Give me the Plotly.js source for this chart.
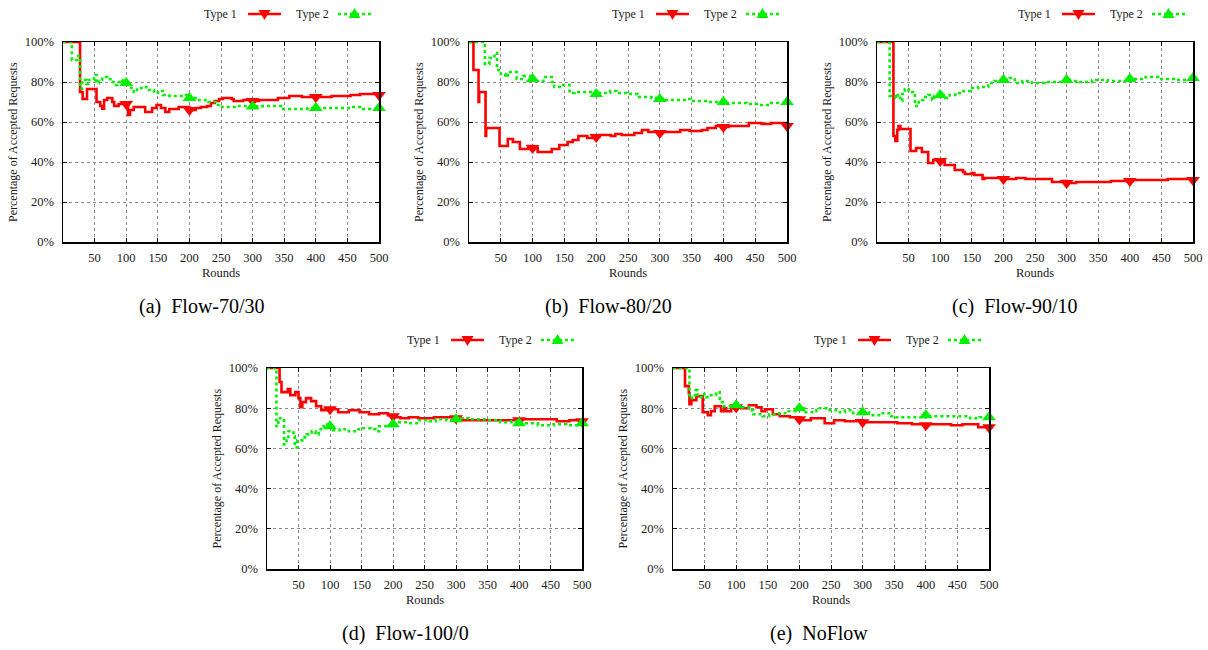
<!DOCTYPE html>
<html>
<head>
<meta charset="utf-8">
<script src="https://cdn.plot.ly/plotly-3.0.1.min.js"></script>
<style>html,body{margin:0;padding:0;background:#fff;}#chart{width:1208px;height:650px;}</style>
</head>
<body>
<div id="chart"></div>
<script>
// ---------- data ----------
const captions = ["(a)  Flow-70/30", "(b)  Flow-80/20", "(c)  Flow-90/10", "(d)  Flow-100/0", "(e)  NoFlow"];
const seriesNames = ["Type 1", "Type 2"];
const xTickVals = [50, 100, 150, 200, 250, 300, 350, 400, 450, 500];
const yTickVals = [0, 20, 40, 60, 80, 100];
const yTickText = ["0%", "20%", "40%", "60%", "80%", "100%"];
const xTitle = "Rounds";
const yTitle = "Percentage of Accepted Requests";

// (a) Flow-70/30
const a_t1_x = [0, 27, 31, 38, 53, 59, 62, 65, 70, 78, 81, 88, 100, 103, 106, 112, 130, 141, 148, 155, 162, 168, 183, 200, 210, 218, 228, 234, 240, 247, 253, 267, 270, 285, 300, 310, 340, 358, 378, 400, 425, 455, 470, 500];
const a_t1_y = [100, 75, 71.5, 76.5, 70, 68, 66.7, 71, 72, 70, 68, 69, 69, 63.5, 66, 67.5, 65, 67, 68.5, 67, 65, 66.5, 67.5, 66, 67, 67.5, 68, 69.5, 70.5, 71.5, 72, 71.5, 70.5, 71, 70.5, 71, 72, 73, 72.5, 72.5, 73, 73.5, 74, 73.5];
const a_t2_x = [0, 14, 22, 27, 30, 37, 40, 49, 53, 57, 62, 70, 75, 80, 86, 91, 94, 100, 105, 112, 117, 128, 132, 144, 150, 158, 168, 190, 200, 212, 230, 242, 252, 275, 300, 315, 345, 387, 400, 430, 455, 470, 500];
const a_t2_y = [100, 91, 93, 76.7, 81, 79, 81, 83.5, 79.5, 81, 82.5, 81.5, 80, 78.5, 80, 81, 79, 79.5, 77, 75, 77, 77.5, 76, 74.5, 75.5, 73.5, 73, 73.5, 72, 71, 70, 68.5, 67.5, 68, 67.8, 68, 66.5, 67, 67, 67, 67.5, 66.5, 67];

// (b) Flow-80/20
const b_t1_x = [0, 7, 15, 16, 26, 27, 48, 61, 69, 80, 93, 100, 108, 130, 142, 155, 163, 172, 186, 200, 205, 223, 230, 240, 260, 272, 282, 300, 305, 332, 347, 366, 375, 388, 400, 408, 440, 460, 475, 490, 500];
const b_t1_y = [100, 86, 70, 75, 53, 57, 48, 51.5, 50, 46.5, 48, 47, 45, 46.5, 48.5, 50, 51, 53, 52, 52.5, 53.5, 53, 54, 53.5, 54.5, 56, 55, 54.5, 55, 56, 55.5, 56, 57, 58, 57.5, 58, 59.5, 59, 59.5, 59.5, 58];
const b_t2_x = [0, 25, 32, 40, 44, 50, 57, 61, 75, 85, 100, 105, 117, 130, 134, 146, 158, 166, 200, 205, 222, 232, 248, 265, 287, 300, 305, 342, 348, 375, 400, 405, 437, 455, 475, 500];
const b_t2_y = [100, 89, 92, 94.5, 86, 84, 82.5, 85, 81.5, 83, 81.5, 80.5, 82.5, 80, 77.5, 78.5, 74.5, 75, 74, 74.5, 75.5, 74.5, 74, 72.5, 72, 71.5, 71, 71.5, 70.5, 70, 70, 69.5, 69, 68.5, 69.5, 70];

// (c) Flow-90/10
const c_t1_x = [0, 26, 29, 32, 34, 37, 53, 62, 71, 81, 89, 100, 107, 123, 136, 139, 150, 154, 167, 170, 200, 205, 220, 235, 277, 292, 300, 305, 315, 370, 400, 405, 430, 460, 500];
const c_t1_y = [100, 53, 50.5, 56, 58, 56.5, 45.5, 47, 45, 39.5, 41, 40.5, 38.5, 36, 35, 34, 34.5, 33.5, 31.5, 32, 31.5, 31.5, 32, 31.5, 30, 30.5, 29.5, 29.5, 30, 30.5, 30.5, 31, 31, 31.5, 31];
const c_t2_x = [0, 20, 30, 33, 37, 40, 44, 50, 57, 60, 66, 73, 81, 87, 90, 100, 108, 115, 124, 137, 148, 160, 176, 186, 200, 210, 218, 230, 245, 265, 300, 305, 320, 340, 365, 400, 405, 425, 445, 470, 500];
const c_t2_y = [100, 73, 72, 73.5, 70.5, 74, 76.5, 75, 74, 68, 71, 72.5, 73.5, 71, 73, 73.5, 72, 73.5, 74.5, 75.5, 77, 77.5, 79.5, 80.5, 81, 82, 79.5, 80.5, 79.5, 80, 81, 80.5, 80, 81, 80.5, 81.5, 81.5, 82.5, 81.5, 81, 82];

// (d) Flow-100/0
const d_t1_x = [0, 20, 23, 33, 37, 45, 50, 53, 56, 62, 70, 78, 86, 93, 100, 105, 113, 130, 147, 162, 178, 192, 200, 205, 212, 225, 240, 265, 300, 310, 400, 405, 460, 480, 500];
const d_t1_y = [100, 93, 88, 89.5, 86.5, 88, 85, 80.5, 83, 85, 83.5, 81, 79, 80, 79.5, 79.5, 78, 79, 78, 77, 77.5, 76.5, 76, 75.5, 75, 75.5, 75, 75.5, 75, 74, 74, 74.5, 73.5, 74, 73.5];
const d_t2_x = [0, 15, 18, 27, 31, 34, 42, 44, 48, 56, 63, 71, 77, 82, 90, 100, 105, 116, 130, 142, 152, 165, 172, 178, 200, 210, 225, 242, 258, 268, 285, 300, 305, 320, 345, 370, 388, 400, 405, 430, 455, 475, 500];
const d_t2_y = [100, 71, 75, 62, 65, 68.5, 66, 60.5, 64, 65.5, 67, 68.5, 67, 69.5, 72, 71, 69, 69.5, 68.5, 69.5, 70, 69.5, 68.5, 71, 72, 73, 72.5, 74, 73.5, 74.5, 74, 74.5, 75, 74.5, 74, 73, 73.5, 72.5, 72.5, 71.5, 72, 71.5, 72.5];

// (e) NoFlow
const e_t1_x = [0, 19, 25, 26, 29, 37, 47, 55, 60, 66, 76, 81, 84, 92, 100, 108, 120, 132, 140, 146, 158, 169, 185, 200, 205, 218, 240, 255, 272, 290, 300, 305, 355, 378, 400, 405, 440, 458, 483, 500];
const e_t1_y = [100, 91, 87.5, 82, 84, 86, 78, 76.5, 78.5, 81, 78.5, 80, 78.5, 80, 80.5, 80, 81.5, 80.5, 78.5, 79.5, 77, 76, 75.5, 74.5, 74, 75, 72.5, 74, 73.5, 74, 73, 73, 72.5, 72, 71.5, 72, 71.5, 72, 70.5, 70.5];
const e_t2_x = [0, 26, 30, 36, 39, 45, 53, 58, 68, 74, 79, 91, 100, 110, 120, 127, 142, 152, 168, 183, 200, 210, 227, 232, 248, 258, 272, 285, 300, 310, 326, 345, 352, 400, 405, 460, 470, 485, 500];
const e_t2_y = [100, 85, 86.5, 89, 85.5, 87, 85.5, 86.5, 88, 83, 81, 82, 81.5, 80.5, 79, 77, 76, 77, 77.5, 78.5, 80, 78, 79, 80, 79, 78, 79, 77.5, 78, 76.5, 77.5, 76, 75.5, 76.5, 76, 76, 75, 75.5, 75.5];

const panelData = [
  [[a_t1_x, a_t1_y], [a_t2_x, a_t2_y]],
  [[b_t1_x, b_t1_y], [b_t2_x, b_t2_y]],
  [[c_t1_x, c_t1_y], [c_t2_x, c_t2_y]],
  [[d_t1_x, d_t1_y], [d_t2_x, d_t2_y]],
  [[e_t1_x, e_t1_y], [e_t2_x, e_t2_y]]
];

// ---------- layout geometry (pixels) ----------
const W = 1208, H = 650;
const boxes = [
  {L: 63, R: 379, T: 42, B: 242},
  {L: 469, R: 787, T: 42, B: 242},
  {L: 877, R: 1193, T: 42, B: 242},
  {L: 267, R: 582, T: 368, B: 569},
  {L: 673, R: 989, T: 368, B: 569}
];
const captionPos = [[201.5, 306], [608, 306], [1014.5, 306], [405, 633], [819, 633]];

const SERIF = "Liberation Serif";
const TXT = "#1a1a1a";
const RED = "#ff0000", GREEN = "#00f000";
const styles = [
  {color: RED, dash: "solid", width: 2.6, symbol: "triangle-down"},
  {color: GREEN, dash: "dot", width: 2.6, symbol: "triangle-up"}
];

const px = v => v / W;
const py = v => 1 - v / H;

const traces = [];
const layout = {
  width: W, height: H,
  margin: {l: 0, r: 0, t: 0, b: 0},
  paper_bgcolor: "#fff", plot_bgcolor: "#fff",
  showlegend: false,
  font: {family: SERIF, size: 12, color: TXT},
  annotations: [], shapes: []
};

boxes.forEach((b, i) => {
  const n = i === 0 ? "" : String(i + 1);
  const xa = "x" + n, ya = "y" + n;
  layout["xaxis" + n] = {
    domain: [px(b.L), px(b.R)], anchor: ya, range: [0, 500],
    tickmode: "array", tickvals: xTickVals, ticktext: xTickVals.map(String),
    ticks: "inside", ticklen: 4, tickcolor: "#000", mirror: "ticks",
    showline: true, linecolor: "#000", linewidth: 1.5,
    showgrid: true, gridcolor: "#8a8a8a", griddash: "dot", gridwidth: 1,
    zeroline: false, tickfont: {family: SERIF, size: 12.5, color: TXT},
    ticklabelstandoff: 3, fixedrange: true
  };
  layout["yaxis" + n] = {
    domain: [py(b.B), py(b.T)], anchor: xa, range: [0, 100],
    tickmode: "array", tickvals: yTickVals, ticktext: yTickText,
    ticks: "inside", ticklen: 4, tickcolor: "#000", mirror: "ticks",
    showline: true, linecolor: "#000", linewidth: 1.5,
    showgrid: true, gridcolor: "#8a8a8a", griddash: "dot", gridwidth: 1,
    zeroline: false, tickfont: {family: SERIF, size: 12.5, color: TXT},
    ticklabelstandoff: 5, fixedrange: true
  };

  // series: lines then markers (type 2 drawn on top)
  panelData[i].forEach((s, k) => {
    const st = styles[k];
    traces.push({
      x: s[0], y: s[1], xaxis: xa, yaxis: ya, type: "scatter", mode: "lines",
      name: seriesNames[k], line: {color: st.color, width: st.width, dash: st.dash, shape: "hv"},
      hoverinfo: "skip"
    });
    const mx = [], my = [];
    s[0].forEach((xv, j) => { if (xv > 0 && xv % 100 === 0) { mx.push(xv); my.push(s[1][j]); } });
    traces.push({
      x: mx, y: my, xaxis: xa, yaxis: ya, type: "scatter", mode: "markers",
      name: seriesNames[k], cliponaxis: false,
      marker: {symbol: st.symbol, size: 12, color: st.color, line: {width: 0}},
      hoverinfo: "skip"
    });
  });

  // axis titles
  layout.annotations.push({
    xref: "paper", yref: "paper", x: px((b.L + b.R) / 2), y: py(b.B + 31),
    xanchor: "center", yanchor: "middle", showarrow: false,
    text: xTitle, font: {family: SERIF, size: 12.5, color: TXT}
  });
  layout.annotations.push({
    xref: "paper", yref: "paper", x: px(b.L - 50), y: py((b.T + b.B) / 2),
    xanchor: "center", yanchor: "middle", showarrow: false, textangle: -90,
    text: yTitle, font: {family: SERIF, size: 12, color: TXT}
  });
  // caption
  layout.annotations.push({
    xref: "paper", yref: "paper", x: px(captionPos[i][0]), y: py(captionPos[i][1]),
    xanchor: "center", yanchor: "middle", showarrow: false,
    text: captions[i], font: {family: SERIF, size: 20, color: "#000"}
  });

  // legend (gnuplot style: label then sample)
  const ly = b.T - 28;
  const entries = [
    {textR: b.R - 140, s0: b.R - 131, s1: b.R - 98},
    {textR: b.R - 48, s0: b.R - 41, s1: b.R - 8}
  ];
  entries.forEach((e, k) => {
    const st = styles[k];
    layout.annotations.push({
      xref: "paper", yref: "paper", x: px(e.textR), y: py(ly),
      xanchor: "right", yanchor: "middle", showarrow: false,
      text: seriesNames[k], font: {family: SERIF, size: 12, color: TXT}
    });
    layout.shapes.push({
      type: "line", xref: "paper", yref: "paper",
      x0: px(e.s0), x1: px(e.s1), y0: py(ly), y1: py(ly),
      line: {color: st.color, width: st.width, dash: st.dash}
    });
    const cx = (e.s0 + e.s1) / 2;
    let pts;
    if (k === 0) pts = [[cx - 6, ly - 4], [cx + 6, ly - 4], [cx, ly + 6]];
    else pts = [[cx - 6, ly + 4], [cx + 6, ly + 4], [cx, ly - 6]];
    const path = "M " + pts.map(p => px(p[0]) + "," + py(p[1])).join(" L ") + " Z";
    layout.shapes.push({
      type: "path", xref: "paper", yref: "paper", path: path,
      fillcolor: st.color, line: {color: st.color, width: 0}
    });
  });
});

Plotly.newPlot("chart", traces, layout, {staticPlot: true, displayModeBar: false});
</script>
</body>
</html>
